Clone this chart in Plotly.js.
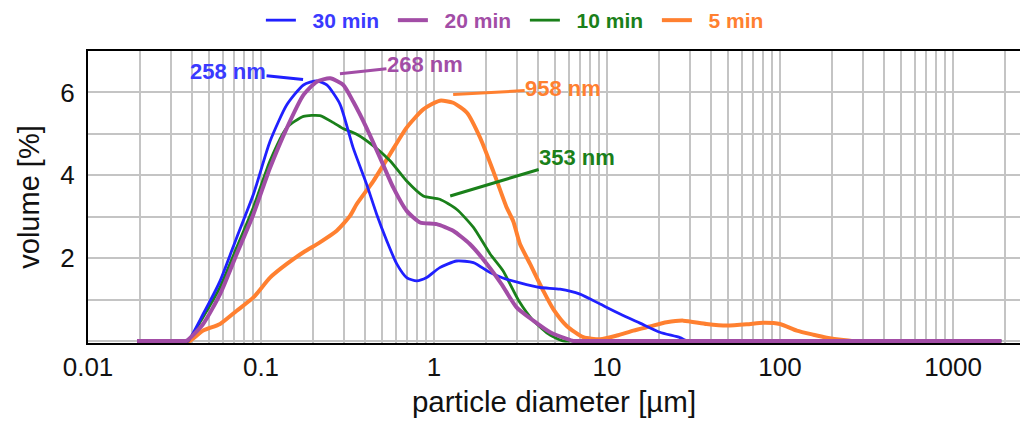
<!DOCTYPE html>
<html>
<head>
<meta charset="utf-8">
<script src="https://cdn.plot.ly/plotly-3.0.1.min.js"></script>
<style>html,body{margin:0;padding:0;background:#fff;}#chart{width:1020px;height:423px;}</style>
</head>
<body>
<div id="chart"></div>
<script>
// particle diameter [µm] and volume [%]
const d30 = [0.0192, 0.036, 0.0378, 0.0463, 0.058, 0.0724, 0.0904, 0.1128, 0.141, 0.176, 0.21, 0.24, 0.286, 0.341, 0.408, 0.466, 0.533, 0.609, 0.695, 0.794, 0.907, 1.08, 1.35, 1.69, 2.11, 2.5, 3.14, 4.1, 5.35, 6.98, 9.12, 11.9, 15.5, 20.2, 26.4, 28.9, 31, 1900];
const v30 = [0, 0, 0, 0.65, 1.45, 2.5, 3.54, 4.82, 5.70, 6.18, 6.28, 6.18, 5.72, 4.66, 3.78, 3.06, 2.42, 1.86, 1.53, 1.45, 1.53, 1.77, 1.93, 1.89, 1.65, 1.52, 1.40, 1.29, 1.25, 1.13, 0.89, 0.65, 0.43, 0.21, 0.08, 0, 0, 0];

const d20 = [0.0192, 0.035, 0.037, 0.0463, 0.058, 0.0724, 0.0904, 0.1128, 0.141, 0.176, 0.21, 0.251, 0.299, 0.341, 0.408, 0.488, 0.582, 0.695, 0.83, 1.036, 1.29, 1.61, 2.02, 2.45, 3.0, 3.75, 4.69, 5.85, 6.38, 7, 1900];
const v20 = [0, 0, 0, 0.41, 1.13, 2.10, 3.06, 4.18, 5.14, 5.94, 6.26, 6.34, 6.18, 5.78, 5.14, 4.42, 3.70, 3.14, 2.86, 2.82, 2.66, 2.34, 1.86, 1.38, 0.81, 0.49, 0.21, 0.05, 0, 0, 0];

const d10 = [0.0192, 0.036, 0.0378, 0.0463, 0.058, 0.0724, 0.0904, 0.1128, 0.141, 0.176, 0.219, 0.262, 0.3, 0.357, 0.446, 0.557, 0.695, 0.867, 1.08, 1.35, 1.69, 2.11, 2.5, 3.07, 3.75, 4.69, 5.58, 6.1, 1900];
const v10 = [0, 0, 0, 0.58, 1.30, 2.26, 3.23, 4.35, 5.15, 5.42, 5.44, 5.27, 5.12, 4.99, 4.71, 4.35, 3.86, 3.50, 3.42, 3.18, 2.74, 2.10, 1.70, 0.99, 0.49, 0.14, 0, 0, 0];

const d5 = [0.0192, 0.037, 0.0389, 0.0463, 0.058, 0.0724, 0.0904, 0.1128, 0.141, 0.176, 0.219, 0.274, 0.327, 0.357, 0.446, 0.557, 0.695, 0.867, 1.08, 1.29, 1.55, 1.85, 2.2, 2.63, 2.87, 3.14, 3.59, 4.28, 4.9, 5.85, 7.29, 9.12, 11.4, 14.2, 17.7, 22.1, 27.6, 37.6, 49.2, 64.2, 80, 100, 125, 156, 186, 232, 260, 1900];
const v5 = [0, 0, 0, 0.25, 0.41, 0.73, 1.05, 1.53, 1.86, 2.14, 2.38, 2.66, 3.02, 3.30, 3.86, 4.51, 5.15, 5.59, 5.80, 5.75, 5.51, 4.90, 4.10, 3.22, 2.89, 2.34, 1.86, 1.21, 0.76, 0.36, 0.09, 0.04, 0.13, 0.25, 0.35, 0.45, 0.49, 0.41, 0.37, 0.40, 0.44, 0.41, 0.25, 0.15, 0.08, 0.02, 0, 0];

const seriesNames = ['30 min', '20 min', '10 min', '5 min'];
const colors = ['#2020ff', '#a24da6', '#1a801a', '#ff8030'];
const legendColors = ['#3a3aff', '#a24da6', '#1a801a', '#ff8030'];

const xTickVals = [0.01, 0.1, 1, 10, 100, 1000];
const xTickText = ['0.01', '0.1', '1', '10', '100', '1000'];
const yTickVals = [2, 4, 6];

// annotation labels: [text, diameter, volume, series index, dx, dy]
const labels = [
  ['258 nm', 0.175, 6.31, 0, -75, -8],
  ['268 nm', 0.286, 6.45, 1, 85, -9],
  ['958 nm', 1.29, 5.95, 3, 110, -6],
  ['353 nm', 1.24, 3.5, 2, 127, -38]
];

function mk(x, y, i, w, rank) {
  return {
    x: x, y: y, type: 'scatter', mode: 'lines',
    name: '<b><span style="color:' + legendColors[i] + '">\u00a0\u00a0' + seriesNames[i] + '</span></b>',
    line: {color: colors[i], width: w, shape: 'spline', smoothing: 0.6},
    legendrank: rank
  };
}

const traces = [
  mk(d5, v5, 3, 4, 4),
  mk(d10, v10, 2, 2.8, 3),
  mk(d30, v30, 0, 2.8, 1),
  mk(d20, v20, 1, 4, 2)
];

const grid = '#c4c4c4';
const layout = {
  width: 1020, height: 423,
  margin: {l: 88, r: 0, t: 50, b: 80},
  paper_bgcolor: '#fff', plot_bgcolor: '#fff',
  font: {family: 'Liberation Sans, Arial, sans-serif', color: '#111'},
  showlegend: true,
  legend: {
    orientation: 'h', x: 0.1855, xanchor: 'left', y: 1.103, yanchor: 'middle',
    font: {size: 21, family: 'Liberation Sans, Arial, sans-serif'},
    bgcolor: 'rgba(0,0,0,0)', itemwidth: 30, tracegroupgap: 0, entrywidth: 87
  },
  xaxis: {
    type: 'log', range: [-2, 3.387],
    tickvals: xTickVals, ticktext: xTickText,
    showgrid: true, gridcolor: grid, gridwidth: 2,
    minor: {dtick: 'D1', showgrid: true, gridcolor: grid, gridwidth: 2, ticks: ''},
    showline: true, linecolor: '#000', linewidth: 2, mirror: true,
    ticks: '', zeroline: false, layer: 'below traces',
    tickfont: {size: 26, color: '#111'},
    title: {text: 'particle diameter [µm]', font: {size: 29.5, color: '#111'}, standoff: 10}
  },
  yaxis: {
    range: [-0.05, 7], tickvals: yTickVals,
    showgrid: true, gridcolor: grid, gridwidth: 2,
    minor: {dtick: 1, showgrid: true, gridcolor: grid, gridwidth: 2, ticks: ''},
    showline: true, linecolor: '#000', linewidth: 2, mirror: true,
    ticks: '', zeroline: false, ticklabelstandoff: 6, layer: 'below traces',
    tickfont: {size: 26, color: '#111'},
    title: {text: 'volume [%]', font: {size: 29, color: '#111'}, standoff: 12}
  },
  annotations: labels.map(function (a) {
    return {
      x: Math.log10(a[1]), y: a[2], xref: 'x', yref: 'y',
      text: '<b>' + a[0] + '</b>',
      showarrow: true, arrowhead: 0, arrowwidth: 3, arrowcolor: colors[a[3]],
      ax: a[4], ay: a[5], standoff: 0, borderpad: 0,
      font: {size: 22, color: legendColors[a[3]], family: 'Liberation Sans, Arial, sans-serif'}
    };
  })
};

Plotly.newPlot('chart', traces, layout, {displayModeBar: false, staticPlot: true});
</script>
</body>
</html>
